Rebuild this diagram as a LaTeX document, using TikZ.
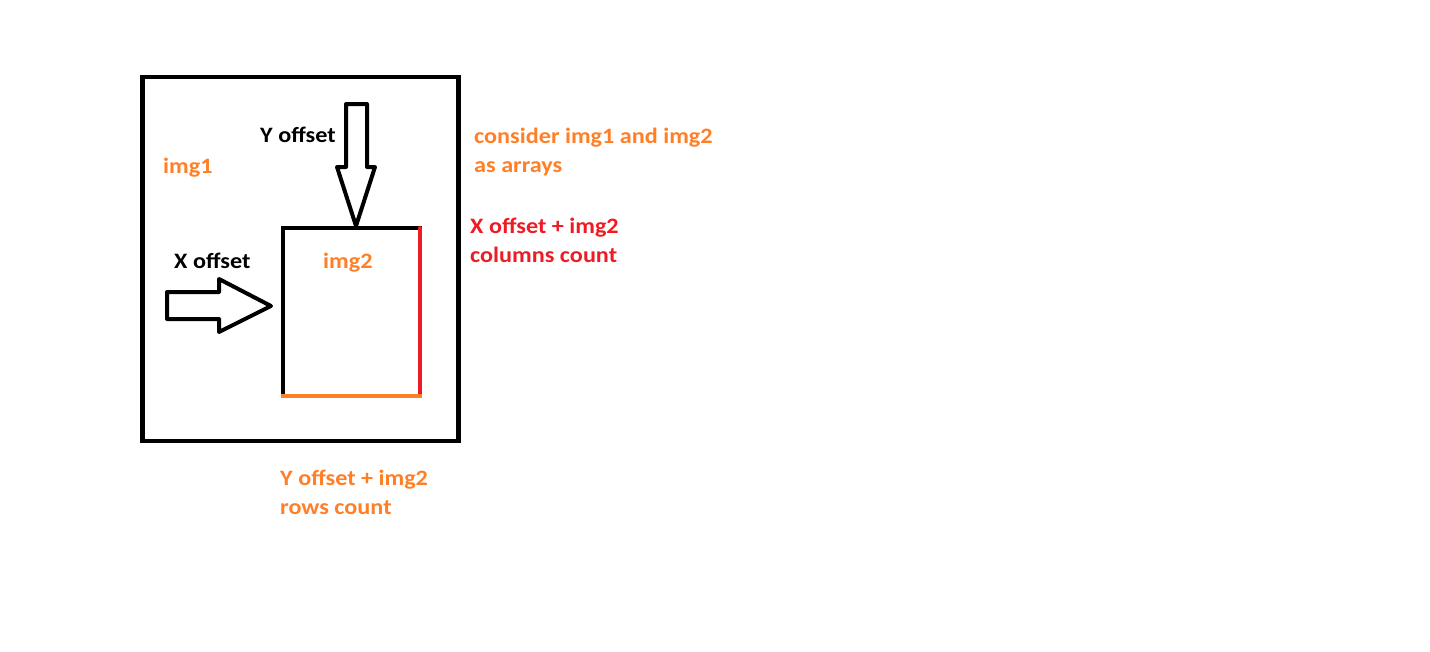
\documentclass[tikz,border=0pt]{standalone}
\usepackage{fontspec}
\setmainfont[FakeStretch=1.1]{Carlito}
\definecolor{paintorange}{RGB}{255,127,39}
\definecolor{paintred}{RGB}{237,28,36}

\begin{document}
\begin{tikzpicture}[x=1pt,y=-1pt]
	\tikzstyle{every node}=[inner sep=0pt, anchor=base west, font=\fontsize{22}{29}\selectfont\bfseries]
	\tikzstyle{box}=[draw, line width=4.5pt, outer sep=0pt, anchor=north west]
	\tikzstyle{blockarrow}=[draw, line width=4pt, line join=round, fill=white]
	\useasboundingbox (0,0) rectangle (1430,651);
	\node (img1box) [box, minimum width=316pt, minimum height=364pt] at (142.5,77) {};
	\node (img2box) [box, line width=4pt, minimum width=136.5pt, minimum height=167.5pt] at (283,228) {};
	\draw [paintred, line width=4pt, line cap=round] (img2box.north east) -- (img2box.south east);
	\draw [paintorange, line width=4pt] ([xshift=-2pt]img2box.south west) -- ([xshift=2pt]img2box.south east);
	% block arrows
	\draw [blockarrow] (346,104) -- (367,104) -- (367,167) -- (375,167) -- (356,226) -- (337,167) -- (346,167) -- cycle;
	\draw [blockarrow] (167,292) -- (219,292) -- (219,279) -- (271,306) -- (219,332) -- (219,319) -- (167,319) -- cycle;
	% labels
	\node (yoff) at (260,142) {Y offset};
	\node (xoff) at (174,268) {X offset};
	\node (img1) [text=paintorange] at (163,173) {img1};
	\node (img2) [text=paintorange] at (323,268) {img2};
	\node (note1) [text=paintorange] at (474,143) {consider img1 and img2};
	\node (note2) [text=paintorange] at (474,172) {as arrays};
	\node (cols1) [text=paintred] at (470,233) {X offset + img2};
	\node (cols2) [text=paintred] at (470,262) {columns count};
	\node (rows1) [text=paintorange] at (280,485) {Y offset + img2};
	\node (rows2) [text=paintorange] at (280,514) {rows count};
\end{tikzpicture}
\end{document}
